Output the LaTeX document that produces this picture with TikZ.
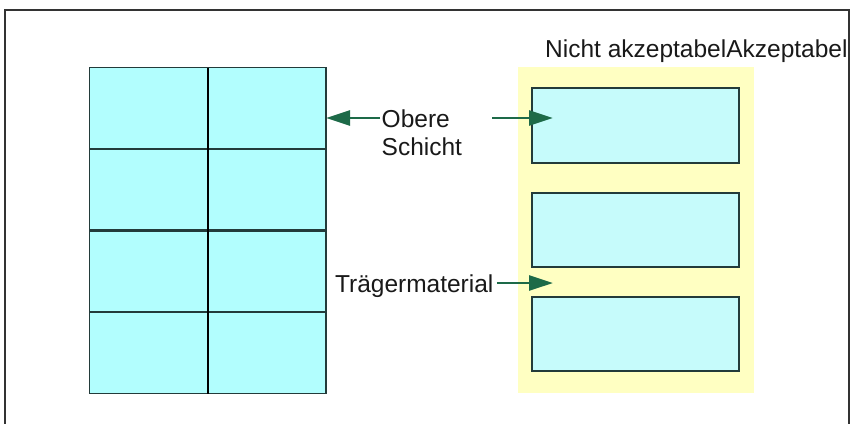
\documentclass[tikz,border=0pt]{standalone}
\usepackage{fontspec}
\setmainfont{Liberation Sans}
\usetikzlibrary{arrows.meta, positioning}
\definecolor{cellcyan}{HTML}{B2FEFE}
\definecolor{boxcyan}{HTML}{C6FBFB}
\definecolor{padyellow}{HTML}{FFFFC2}
\definecolor{edgegray}{HTML}{233B3A}
\definecolor{arrowgreen}{HTML}{1D6A48}
\tikzset{
  cell/.style={rectangle, fill=cellcyan,
               minimum width=118.2pt, minimum height=81.4pt, inner sep=0pt},
  edge/.style={draw=edgegray, line width=1.8pt},
  lbox/.style={rectangle, draw=edgegray, fill=boxcyan, line width=1.8pt,
               minimum width=207pt, minimum height=74.5pt, inner sep=0pt},
  pad/.style={rectangle, fill=padyellow, minimum width=236pt,
              minimum height=326pt, inner sep=0pt},
  lbl/.style={font=\fontsize{24.5}{28}\selectfont, text=black!90},
  arr/.style={-{Triangle[length=24pt, width=15pt]}, line width=2.8pt, arrowgreen},
}

\begin{document}
\begin{tikzpicture}[x=1pt, y=-1pt]
  \useasboundingbox (0,0) rectangle (851,423);
  % --- right sheet: backing with three labels ---
  \node[pad] (back) at (636,230) {};
  \node[lbox] (box1) at (635.5,125.5) {};
  \node[lbox] (box2) at (635.5,230) {};
  \node[lbox] (box3) at (635.5,334) {};

  % --- left sheet: 4 x 2 labels ---
  \foreach \r in {1,...,4}{
    \foreach \c in {1,2}{
      \node[cell] (c\r\c) at ({89.6+118.2*(\c-0.5)}, {67.7+81.4*(\r-0.5)}) {};
    }
  }
  \foreach \r in {1,...,4}{
    \foreach \c in {1,2}{
      \draw[edge] (c\r\c.north west) rectangle (c\r\c.south east);
    }
  }
  \draw[line width=2.4pt, black] (c11.north east) -- (c41.south east);

  % --- labels ---
  \node[lbl, anchor=base west, inner sep=0pt] (title) at (545,57) {Nicht akzeptabelAkzeptabel};
  \node[lbl, anchor=north west, inner sep=0pt, align=left] (obere) at (381.5,109.5) {Obere\\[0pt]Schicht};
  \node[lbl, anchor=base west] (traeger) at (331.5,292) {Trägermaterial};

  % --- frame ---
  \draw[line width=2.2pt, black!80] (5,430) -- (5,10) -- (849,10) -- (849,430);

  % --- arrows ---
  \coordinate (obereL) at (380,118);
  \coordinate (obereR) at (492,118);
  \coordinate (tipA) at (553,118);
  \coordinate (tipB) at (553,283);
  \draw[arr] (obereL) -- (c12.east |- obereL);
  \draw[arr] (obereR) -- (tipA);
  \draw[arr] (traeger.east |- tipB) -- (tipB);
\end{tikzpicture}
\end{document}
